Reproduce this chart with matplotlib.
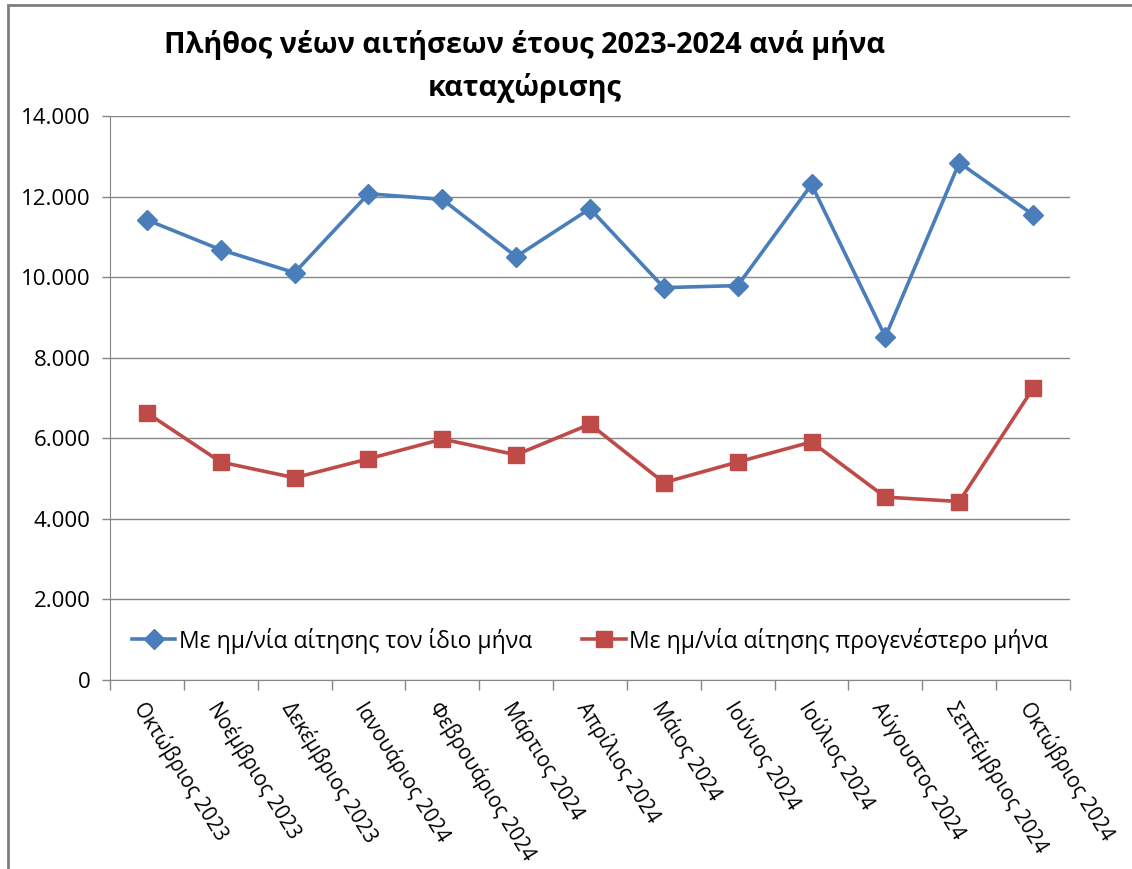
import matplotlib.pyplot as plt
from matplotlib.ticker import FuncFormatter, FixedLocator
from matplotlib.lines import Line2D
from matplotlib.patches import Rectangle

plt.rcParams['font.family'] = ['Open Sans', 'DejaVu Sans']

MONTHS = ['Οκτώβριος 2023', 'Νοέμβριος 2023', 'Δεκέμβριος 2023', 'Ιανουάριος 2024',
          'Φεβρουάριος 2024', 'Μάρτιος 2024', 'Απρίλιος 2024', 'Μάιος 2024',
          'Ιούνιος 2024', 'Ιούλιος 2024', 'Αύγουστος 2024', 'Σεπτέμβριος 2024',
          'Οκτώβριος 2024']

SAME_MONTH = [11420, 10680, 10110, 12070, 11930, 10510, 11700, 9740, 9790, 12300, 8520, 12840, 11550]
EARLIER_MONTH = [6630, 5410, 5020, 5490, 5980, 5590, 6350, 4900, 5410, 5910, 4540, 4430, 7240]

LABEL_SAME = 'Με ημ/νία αίτησης τον ίδιο μήνα'
LABEL_EARLIER = 'Με ημ/νία αίτησης προγενέστερο μήνα'

blue = '#4A7EBB'
red = '#BE4B48'
gray = '#868686'

fig = plt.figure(figsize=(11.32, 8.69), dpi=100)
ax = fig.add_axes([110/1132, 1-680/869, 960/1132, 564/869])

x = list(range(len(MONTHS)))
ax.plot(x, SAME_MONTH, color=blue, lw=2.6, marker='D', ms=10,
        markerfacecolor=blue, markeredgecolor=blue, label=LABEL_SAME, zorder=3)
ax.plot(x, EARLIER_MONTH, color=red, lw=2.6, marker='s', ms=11.5,
        markerfacecolor=red, markeredgecolor=red, label=LABEL_EARLIER, zorder=3)

ax.set_xlim(-0.5, len(MONTHS) - 0.5)
ax.set_ylim(0, 14000)
ax.set_yticks(range(0, 14001, 2000))
ax.yaxis.set_major_formatter(FuncFormatter(lambda v, p: f'{int(v):,}'.replace(',', '.')))
ax.grid(axis='y', color=gray, lw=1)
ax.set_axisbelow(True)

# category boundaries as ticks, labels at centres
ax.xaxis.set_major_locator(FixedLocator([i - 0.5 for i in range(len(MONTHS) + 1)]))
ax.xaxis.set_major_formatter(FuncFormatter(lambda v, p: ''))
ax.tick_params(axis='x', length=7, color=gray, width=1)
ax.tick_params(axis='y', length=6, color=gray, width=1, labelsize=16, pad=8)
for i, m in enumerate(MONTHS):
    ax.text(i + 0.02, -450, m, rotation=-58, rotation_mode='anchor',
            ha='left', va='top', fontsize=14.8, transform=ax.transData)

for s in ['top', 'right']:
    ax.spines[s].set_visible(False)
ax.spines['left'].set_color(gray)
ax.spines['bottom'].set_color(gray)

handles = [Line2D([], [], color=blue, lw=2.6, marker='D', ms=10),
           Line2D([], [], color=red, lw=2.6, marker='s', ms=11.5)]
ax.legend(handles, [LABEL_SAME, LABEL_EARLIER], loc='center', bbox_to_anchor=(0.5, 0.07),
          ncol=2, frameon=False, fontsize=16.5, handlelength=1.9, handletextpad=0.15,
          columnspacing=2.2)

fig.text(525/1132, 1-45/869, 'Πλήθος νέων αιτήσεων έτους 2023-2024 ανά μήνα',
         ha='center', va='center', fontsize=20.8, fontweight='bold')
fig.text(525/1132, 1-88/869, 'καταχώρισης',
         ha='center', va='center', fontsize=20.8, fontweight='bold')

# chart area border (partly outside the picture)
fig.patches.append(Rectangle((8/1132, -0.05), 1.2, 1-5/869+0.05, transform=fig.transFigure,
                             fill=False, edgecolor='#7f7f7f', lw=2))

fig.savefig('out.png', dpi=100)
